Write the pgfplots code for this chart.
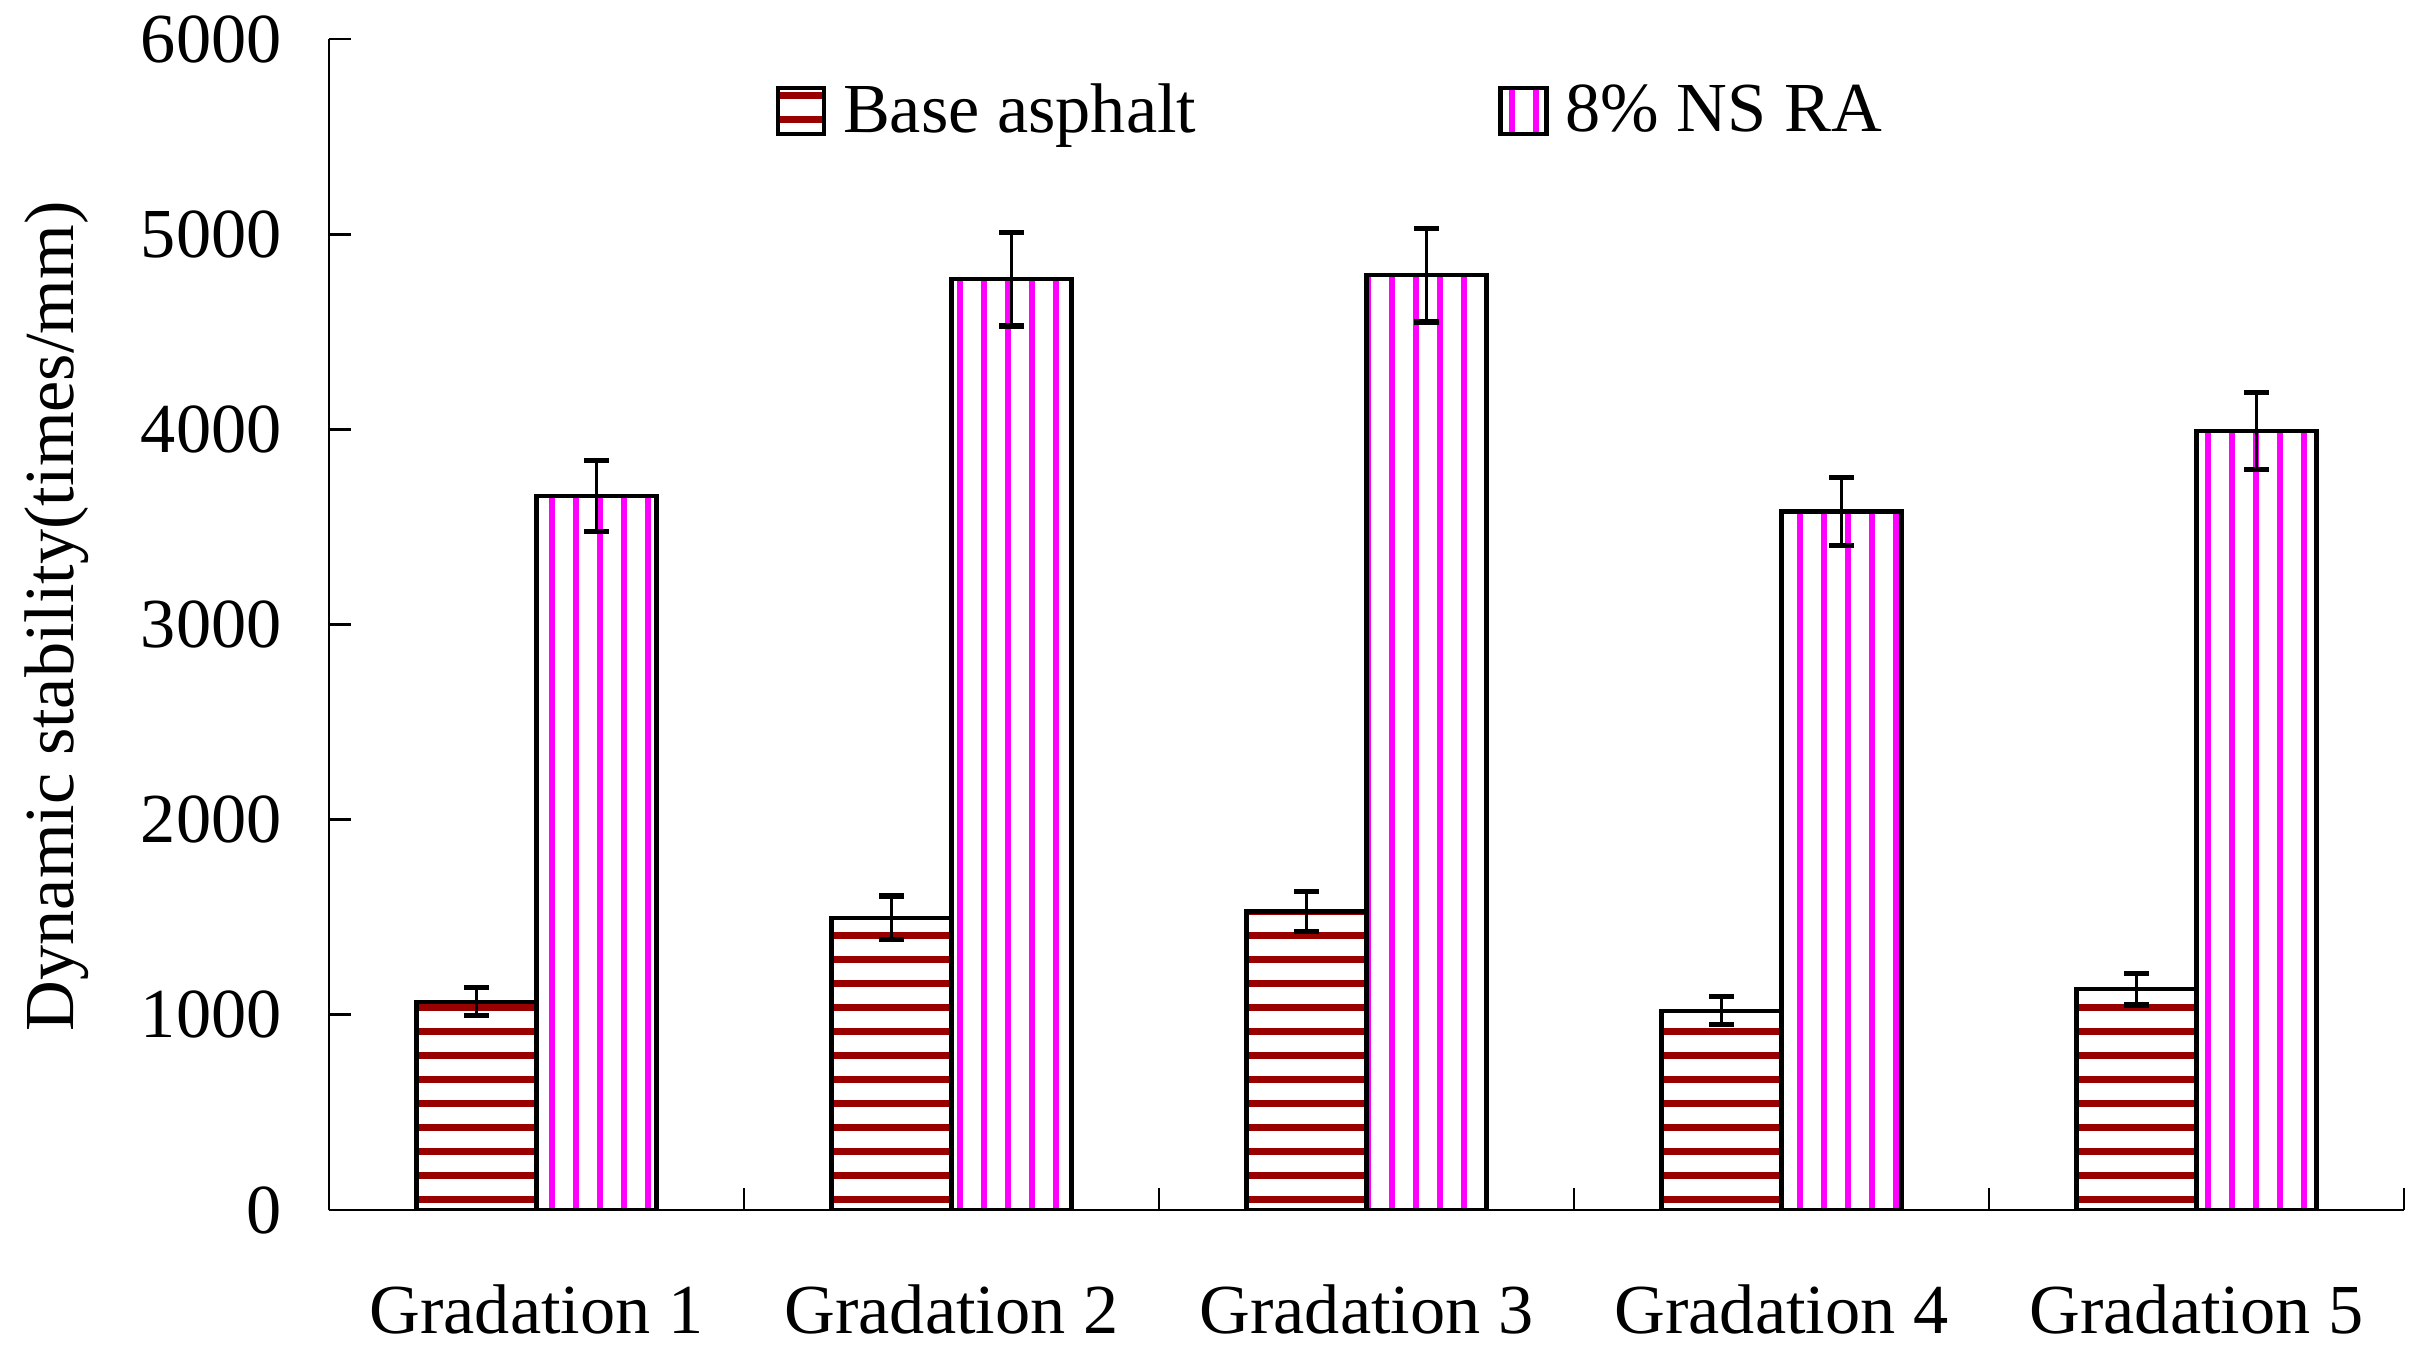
\documentclass[border=0pt]{standalone}
\usepackage{fontspec}
\setmainfont{Liberation Serif}
\usepackage{pgfplots}
\pgfplotsset{compat=1.18}
\usetikzlibrary{patterns.meta}
\definecolor{darkred}{HTML}{990000}
\definecolor{mag}{HTML}{FF00FF}
\newcommand{\bigf}{\fontsize{20}{24}\selectfont}
\begin{document}
\begin{tikzpicture}
\useasboundingbox (0,0) rectangle (24.33cm,13.68cm);
\begin{axis}[
  at={(3.29cm,1.58cm)}, anchor=south west,
  width=20.75cm, height=11.71cm, scale only axis,
  xmin=0.5, xmax=5.5, ymin=0, ymax=6000,
  axis x line=bottom, axis y line=left,
  axis line style={line width=0.8pt, -},
  xtick={1,2,3,4,5},
  xticklabels={Gradation 1,Gradation 2,Gradation 3,Gradation 4,Gradation 5},
  minor xtick={0.5,1.5,2.5,3.5,4.5,5.5},
  ytick={0,1000,2000,3000,4000,5000,6000},
  minor ytick={0,1000,2000,3000,4000,5000,6000},
  tick align=inside,
  major tick length=0pt, minor tick length=0.22cm,
  tick style={line width=0.8pt, black},
  /pgf/number format/assume math mode=true,
  /pgf/number format/1000 sep={},
  tick label style={font=\bigf},
  xticklabel style={yshift=-0.62cm},
  yticklabel style={xshift=-0.35cm},
  ylabel={Dynamic stability(times/mm)},
  ylabel style={font=\bigf, at={(axis description cs:-0.131,0.507)}, anchor=center},
  legend style={draw=none, fill=none, at={(0.215,0.9385)}, anchor=west,
    legend columns=2, font=\bigf, inner sep=0pt,
    /tikz/every even column/.append style={column sep=2.95cm}},
  legend image code/.code={\draw[#1] (0cm,-0.23cm) rectangle (0.46cm,0.23cm); \path (0.56cm,0cm);},
]
\addplot[ybar, bar width=1.2cm, bar shift=0pt, draw=black, line width=1.2pt,
  pattern={Lines[angle=0,distance=0.24cm,line width=0.07cm]}, pattern color=darkred,
  error bars/.cd, y dir=both, y explicit,
  error bar style={line width=0.9pt, black},
  error mark options={rotate=90, mark size=0.125cm, line width=1.5pt, black}]
  coordinates {(0.85542,1067) +- (0,72) (1.85542,1497) +- (0,112) (2.85542,1530) +- (0,103) (3.85542,1021) +- (0,72) (4.85542,1131) +- (0,81)};
\addlegendentry{Base asphalt}
\addplot[ybar, bar width=1.2cm, bar shift=0pt, draw=black, line width=1.2pt,
  pattern={Lines[angle=90,distance=0.24cm,line width=0.055cm]}, pattern color=mag,
  error bars/.cd, y dir=both, y explicit,
  error bar style={line width=0.9pt, black},
  error mark options={rotate=90, mark size=0.125cm, line width=1.5pt, black}]
  coordinates {(1.14458,3659) +- (0,183) (2.14458,4770) +- (0,240) (3.14458,4790) +- (0,240) (4.14458,3579) +- (0,175) (5.14458,3992) +- (0,198)};
\addlegendentry{8\% NS RA}
\end{axis}
\end{tikzpicture}
\end{document}
